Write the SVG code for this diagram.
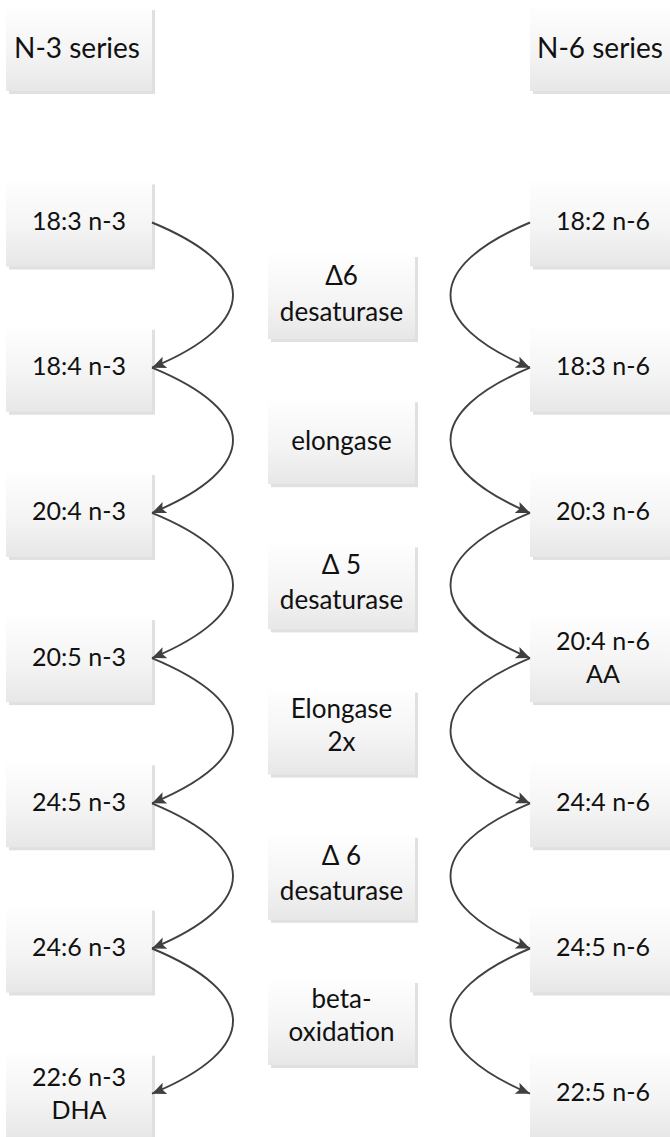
<svg xmlns="http://www.w3.org/2000/svg" width="670" height="1137" viewBox="0 0 670 1137">
<defs>
<linearGradient id="g" x1="0" y1="0" x2="0" y2="1">
<stop offset="0" stop-color="#fefefe"/>
<stop offset="0.55" stop-color="#f4f4f4"/>
<stop offset="1" stop-color="#e7e7e7"/>
</linearGradient>
<marker id="ah" viewBox="-1 -7 16 14" markerWidth="16" markerHeight="14" refX="14" refY="0" orient="auto" markerUnits="userSpaceOnUse">
<path d="M0,-6 L14,0 L0,6 L3,0 Z" fill="#404040"/>
</marker>
</defs>
<style>
.sh{fill:#e0e0e0}
.bx{fill:url(#g)}
text{font-family:Lato,"Open Sans","DejaVu Sans",sans-serif;fill:#111;text-anchor:middle}
.h{font-size:28px}
.n{font-size:25px}
.m{font-size:26px}
.c{fill:none;stroke:#404040;stroke-width:1.9}
</style>
<rect width="670" height="1137" fill="#fff"/>

<g id="hdr-n3"><rect class="sh" x="9" y="10" width="146" height="84"/><rect class="bx" x="6" y="7" width="146" height="84"/><text class="h" x="77" y="58">N-3 series</text></g>
<g id="hdr-n6"><rect class="sh" x="533" y="10" width="146" height="84"/><rect class="bx" x="530" y="7" width="146" height="84"/><text class="h" x="600" y="58">N-6 series</text></g>

<g id="l1"><rect class="sh" x="9" y="184.5" width="146" height="85"/><rect class="bx" x="6" y="181.5" width="146" height="85"/><text class="n" x="79" y="230">18:3 n-3</text></g>
<g id="l2"><rect class="sh" x="9" y="329.7" width="146" height="85"/><rect class="bx" x="6" y="326.7" width="146" height="85"/><text class="n" x="79" y="375.2">18:4 n-3</text></g>
<g id="l3"><rect class="sh" x="9" y="474.9" width="146" height="85"/><rect class="bx" x="6" y="471.9" width="146" height="85"/><text class="n" x="79" y="520.4">20:4 n-3</text></g>
<g id="l4"><rect class="sh" x="9" y="620.1" width="146" height="85"/><rect class="bx" x="6" y="617.1" width="146" height="85"/><text class="n" x="79" y="665.6">20:5 n-3</text></g>
<g id="l5"><rect class="sh" x="9" y="765.3" width="146" height="85"/><rect class="bx" x="6" y="762.3" width="146" height="85"/><text class="n" x="79" y="810.8">24:5 n-3</text></g>
<g id="l6"><rect class="sh" x="9" y="910.5" width="146" height="85"/><rect class="bx" x="6" y="907.5" width="146" height="85"/><text class="n" x="79" y="956">24:6 n-3</text></g>
<g id="l7"><rect class="sh" x="9" y="1055.7" width="146" height="85"/><rect class="bx" x="6" y="1052.7" width="146" height="85"/><text class="n" x="79" y="1086">22:6 n-3</text><text class="n" x="79" y="1119">DHA</text></g>

<g id="r1"><rect class="sh" x="533" y="184.5" width="146" height="85"/><rect class="bx" x="530" y="181.5" width="146" height="85"/><text class="n" x="603" y="230">18:2 n-6</text></g>
<g id="r2"><rect class="sh" x="533" y="329.7" width="146" height="85"/><rect class="bx" x="530" y="326.7" width="146" height="85"/><text class="n" x="603" y="375.2">18:3 n-6</text></g>
<g id="r3"><rect class="sh" x="533" y="474.9" width="146" height="85"/><rect class="bx" x="530" y="471.9" width="146" height="85"/><text class="n" x="603" y="520.4">20:3 n-6</text></g>
<g id="r4"><rect class="sh" x="533" y="620.1" width="146" height="85"/><rect class="bx" x="530" y="617.1" width="146" height="85"/><text class="n" x="603" y="650">20:4 n-6</text><text class="n" x="603" y="683">AA</text></g>
<g id="r5"><rect class="sh" x="533" y="765.3" width="146" height="85"/><rect class="bx" x="530" y="762.3" width="146" height="85"/><text class="n" x="603" y="810.8">24:4 n-6</text></g>
<g id="r6"><rect class="sh" x="533" y="910.5" width="146" height="85"/><rect class="bx" x="530" y="907.5" width="146" height="85"/><text class="n" x="603" y="956">24:5 n-6</text></g>
<g id="r7"><rect class="sh" x="533" y="1055.7" width="146" height="85"/><rect class="bx" x="530" y="1052.7" width="146" height="85"/><text class="n" x="603" y="1101.2">22:5 n-6</text></g>

<g id="m1"><rect class="sh" x="271" y="257" width="147" height="85"/><rect class="bx" x="268" y="254" width="147" height="85"/><text class="m" x="341.5" y="285">Δ6</text><text class="m" x="341.5" y="321">desaturase</text></g>
<g id="m2"><rect class="sh" x="271" y="402.2" width="147" height="85"/><rect class="bx" x="268" y="399.2" width="147" height="85"/><text class="m" x="341.5" y="450">elongase</text></g>
<g id="m3"><rect class="sh" x="271" y="547.4" width="147" height="85"/><rect class="bx" x="268" y="544.4" width="147" height="85"/><text class="m" x="341.5" y="574">Δ 5</text><text class="m" x="341.5" y="609">desaturase</text></g>
<g id="m4"><rect class="sh" x="271" y="692.6" width="147" height="85"/><rect class="bx" x="268" y="689.6" width="147" height="85"/><text class="m" x="341.5" y="718">Elongase</text><text class="m" x="341.5" y="751">2x</text></g>
<g id="m5"><rect class="sh" x="271" y="837.8" width="147" height="85"/><rect class="bx" x="268" y="834.8" width="147" height="85"/><text class="m" x="341.5" y="864.5">Δ 6</text><text class="m" x="341.5" y="899.5">desaturase</text></g>
<g id="m6"><rect class="sh" x="271" y="983" width="147" height="85"/><rect class="bx" x="268" y="980" width="147" height="85"/><text class="m" x="341.5" y="1008">beta-</text><text class="m" x="341.5" y="1041">oxidation</text></g>

<g id="connectors" marker-end="url(#ah)">
<path class="c" d="M152,222.5 C260,267 260,323 152,367.7"/>
<path class="c" d="M152,367.7 C260,412 260,468 152,512.9"/>
<path class="c" d="M152,512.9 C260,557 260,613 152,658.1"/>
<path class="c" d="M152,658.1 C260,703 260,758 152,803.3"/>
<path class="c" d="M152,803.3 C260,848 260,904 152,948.5"/>
<path class="c" d="M152,948.5 C260,993 260,1049 152,1093.7"/>
<path class="c" d="M530,222.5 C424,267 424,323 530,367.7"/>
<path class="c" d="M530,367.7 C424,412 424,468 530,512.9"/>
<path class="c" d="M530,512.9 C424,557 424,613 530,658.1"/>
<path class="c" d="M530,658.1 C424,703 424,758 530,803.3"/>
<path class="c" d="M530,803.3 C424,848 424,904 530,948.5"/>
<path class="c" d="M530,948.5 C424,993 424,1049 530,1093.7"/>
</g>
</svg>
